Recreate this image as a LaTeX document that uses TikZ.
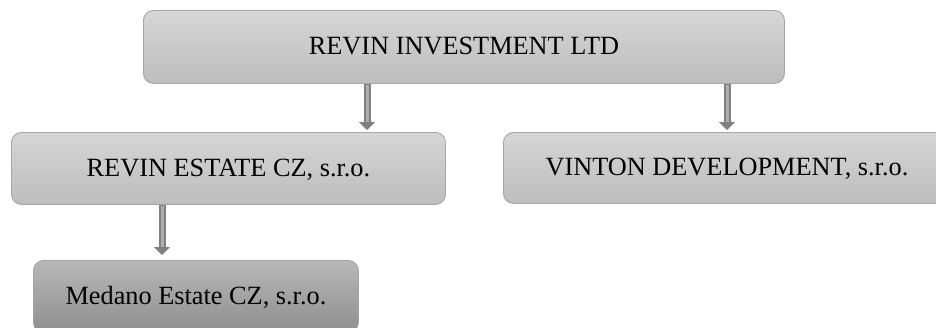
\documentclass[tikz,border=0pt]{standalone}
\usepackage{fontspec}
\setmainfont{Liberation Serif}
\usetikzlibrary{arrows.meta,calc}
\begin{document}
\begin{tikzpicture}[x=1pt,y=-1pt,
  orgbox/.style={draw=black!35, line width=0.9pt, rounded corners=10pt,
    top color=black!16, bottom color=black!26, anchor=north west,
    inner sep=0pt, text height=17.4pt, text depth=2pt,
    font=\fontsize{26.3}{30}\selectfont},
  darkbox/.style={orgbox, top color=black!28, bottom color=black!44},
  shaftout/.style={draw=black!50, line width=7pt, -{Triangle[width=16pt,length=8pt]}},
  shaftin/.style={draw=black!32, line width=3pt}
]
\useasboundingbox (0,0) rectangle (936,327);
\begin{scope}
\clip (0,0) rectangle (936,327);
\node[orgbox, minimum width=641pt, minimum height=73pt] (top) at (143,10) {REVIN INVESTMENT LTD};
\node[orgbox, minimum width=434pt, minimum height=72pt] (est) at (11,132) {REVIN ESTATE CZ, s.r.o.};
\node[orgbox, minimum width=447pt, minimum height=71pt] (vin) at (503,132) {VINTON DEVELOPMENT, s.r.o.};
\node[darkbox, minimum width=325pt, minimum height=72pt] (med) at (33,260) {Medano Estate CZ, s.r.o.};
\end{scope}
\coordinate (a1) at (367,0);
\coordinate (a2) at (727,0);
\coordinate (a3) at (162,0);
% connectors
\draw[shaftout] (top.south -| a1) -- ($(est.north -| a1)+(0,-2)$);
\draw[shaftin] ($(top.south -| a1)+(0,1)$) -- ($(est.north -| a1)+(0,-10)$);
\draw[shaftout] (top.south -| a2) -- ($(vin.north -| a2)+(0,-2)$);
\draw[shaftin] ($(top.south -| a2)+(0,1)$) -- ($(vin.north -| a2)+(0,-10)$);
\draw[shaftout] (est.south -| a3) -- ($(med.north -| a3)+(0,-5)$);
\draw[shaftin] ($(est.south -| a3)+(0,1)$) -- ($(med.north -| a3)+(0,-13)$);
\end{tikzpicture}
\end{document}
